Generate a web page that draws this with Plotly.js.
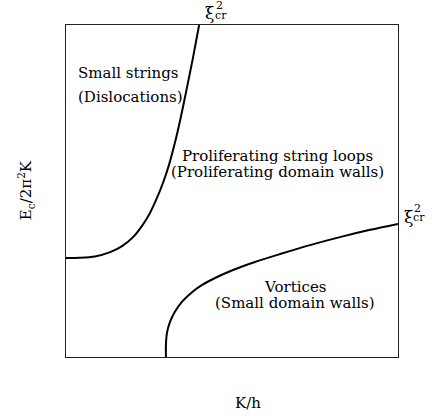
<!DOCTYPE html>
<html>
<head>
<meta charset="utf-8">
<script src="https://cdn.plot.ly/plotly-3.0.1.min.js"></script>
<style>html,body{margin:0;padding:0;background:#fff;}</style>
</head>
<body>
<div id="chart" style="width:432px;height:416px;"></div>
<script>
// Left boundary curve (small strings / proliferating loops)
const curve1X = [0.000, 0.042, 0.087, 0.133, 0.169, 0.202, 0.229, 0.253, 0.274, 0.292, 0.310, 0.328, 0.346, 0.364, 0.383, 0.401];
const curve1Y = [0.298, 0.299, 0.303, 0.316, 0.334, 0.361, 0.395, 0.434, 0.479, 0.524, 0.578, 0.645, 0.723, 0.810, 0.904, 1.000];
// Right boundary curve (vortices / proliferating domain walls)
const curve2X = [0.301, 0.301, 0.304, 0.313, 0.328, 0.349, 0.377, 0.410, 0.449, 0.503, 0.569, 0.645, 0.735, 0.825, 0.916, 1.000];
const curve2Y = [0.000, 0.036, 0.072, 0.105, 0.136, 0.166, 0.193, 0.217, 0.238, 0.262, 0.286, 0.310, 0.337, 0.361, 0.383, 0.401];

const regionLines = ["Small strings", "(Dislocations)", "Proliferating string loops", "(Proliferating domain walls)", "Vortices", "(Small domain walls)"];
const xTitle = "K/h";
const yTitle = "E<sub>c</sub>/2π<sup>2</sup>K";
const xiText = ["ξ", "2", "cr"];

const FONT = "DejaVu Serif, serif";
const FS = 15;

const traces = [
  {x: curve1X, y: curve1Y, mode: "lines", line: {color: "#000", width: 2, shape: "spline", smoothing: 0.8}, hoverinfo: "skip"},
  {x: curve2X, y: curve2Y, mode: "lines", line: {color: "#000", width: 2, shape: "spline", smoothing: 0.8}, hoverinfo: "skip"}
];

function ann(x, y, text, size, extra) {
  return Object.assign({xref: "paper", yref: "paper", x: x, y: y, xanchor: "center", yanchor: "middle", text: text, showarrow: false, font: {family: FONT, size: size, color: "#000"}}, extra || {});
}

const annotations = [
  ann(0.030, 0.855, regionLines[0], FS, {xanchor: "left"}),
  ann(0.030, 0.783, regionLines[1], FS, {xanchor: "left"}),
  ann(0.636, 0.605, regionLines[2], FS),
  ann(0.636, 0.557, regionLines[3], FS),
  ann(0.690, 0.211, regionLines[4], FS),
  ann(0.690, 0.163, regionLines[5], FS),
  ann(0.548, -0.139, xTitle, FS),
  ann(-0.123, 0.503, yTitle, FS, {textangle: -90}),
  // top xi_cr^2
  ann(0.431, 1.036, xiText[0], 17),
  ann(0.462, 1.060, xiText[1], 11),
  ann(0.467, 1.030, xiText[2], 11),
  // right xi_cr^2
  ann(1.032, 0.423, xiText[0], 17),
  ann(1.059, 0.446, xiText[1], 11),
  ann(1.063, 0.419, xiText[2], 11)
];

const axisCommon = {range: [0, 1], showticklabels: false, ticks: "", showgrid: false, zeroline: false, showline: true, mirror: true, linecolor: "#222", linewidth: 1, fixedrange: true};

const layout = {
  width: 432, height: 416,
  margin: {l: 66, r: 34, t: 25, b: 59},
  paper_bgcolor: "#fff", plot_bgcolor: "#fff",
  showlegend: false,
  xaxis: Object.assign({}, axisCommon),
  yaxis: Object.assign({}, axisCommon),
  annotations: annotations
};

Plotly.newPlot("chart", traces, layout, {displayModeBar: false, staticPlot: true});
</script>
</body>
</html>
